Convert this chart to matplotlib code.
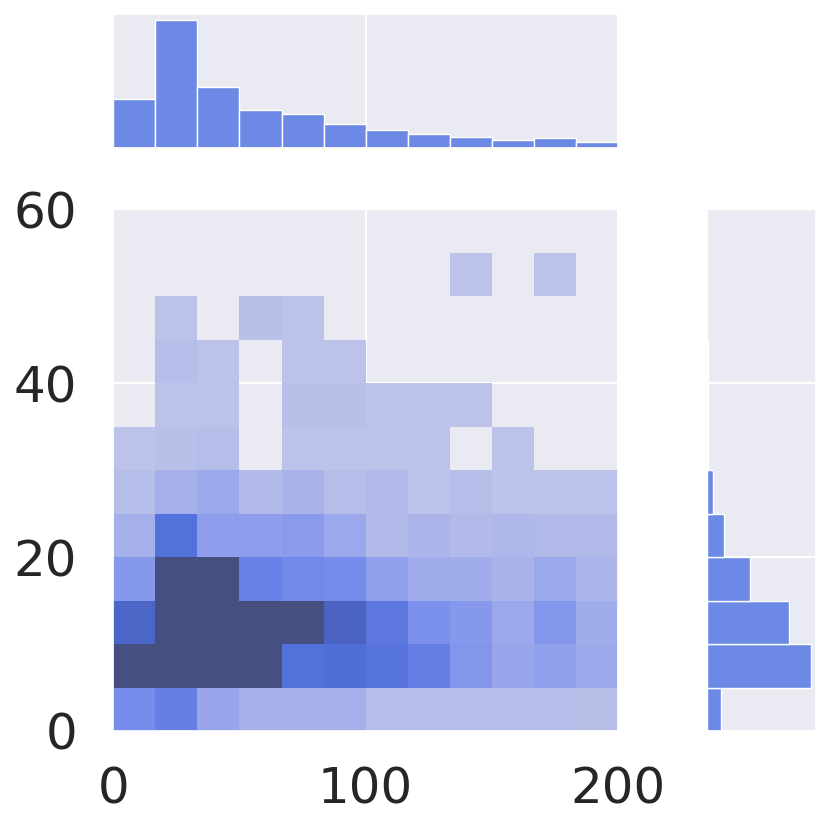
import numpy as np
import matplotlib
matplotlib.use("Agg")
import matplotlib.pyplot as plt
import seaborn as sns

# bins of the joint histogram
x_range = (0, 200)
x_bins = 12
y_range = (0, 55)
y_bins = 11

# counts per cell: rows = y bins from 0-5 upward, columns = x bins from left
counts = np.array([
    [22, 27, 12, 8, 8, 8, 3, 3, 3, 3, 3, 2],
    [152, 270, 90, 70, 33, 34, 32, 27, 18, 12, 14, 10],
    [38, 190, 91, 65, 75, 39, 30, 20, 17, 11, 18, 9],
    [17, 94, 80, 26, 23, 22, 14, 9, 9, 7, 11, 6],
    [8, 33, 15, 15, 16, 11, 4, 6, 4, 5, 4, 4],
    [3, 8, 11, 4, 7, 3, 4, 1, 3, 1, 1, 1],
    [1, 2, 3, 0, 1, 1, 1, 1, 0, 1, 0, 0],
    [0, 1, 1, 0, 2, 2, 1, 1, 1, 0, 0, 0],
    [0, 3, 1, 0, 1, 1, 0, 0, 0, 0, 0, 0],
    [0, 1, 0, 2, 1, 0, 0, 0, 0, 0, 0, 0],
    [0, 0, 0, 0, 0, 0, 0, 0, 1, 0, 1, 0],
])
color_max = 50   # counts above this share the darkest colour

x_ticks = [0, 100, 200]
y_ticks = [0, 20, 40, 60]

# long form: one row per cell, weighted by its count
x_edges = np.linspace(*x_range, x_bins + 1)
y_edges = np.linspace(*y_range, y_bins + 1)
xc = (x_edges[:-1] + x_edges[1:]) / 2
yc = (y_edges[:-1] + y_edges[1:]) / 2
xx, yy = np.meshgrid(xc, yc)
xx, yy, w = xx.ravel(), yy.ravel(), counts.ravel()

sns.set_theme(style="darkgrid")
plt.rcParams["grid.linewidth"] = 1.5

fig = plt.figure(figsize=(8.31, 8.30), dpi=100)
ax_joint = fig.add_axes([0.1363, 0.1193, 0.6074, 0.6285])
ax_top = fig.add_axes([0.1363, 0.8213, 0.6074, 0.1618], sharex=ax_joint)
ax_right = fig.add_axes([0.8504, 0.1193, 0.1315, 0.6285], sharey=ax_joint)

sns.histplot(x=xx, y=yy, weights=w, bins=(x_bins, y_bins),
             binrange=(x_range, y_range), color="royalblue",
             vmax=color_max, ax=ax_joint)
sns.histplot(x=xx, weights=w, bins=x_bins, binrange=x_range,
             color="royalblue", ax=ax_top)
sns.histplot(y=yy, weights=w, bins=y_bins, binrange=y_range,
             color="royalblue", ax=ax_right)

ax_joint.set_xlim(0, 200)
ax_joint.set_ylim(0, 60)
ax_joint.set_xticks(x_ticks)
ax_joint.set_yticks(y_ticks)
ax_joint.tick_params(axis="both", length=0, labelsize=36, colors="#262626")
ax_joint.tick_params(axis="x", pad=25)
ax_joint.tick_params(axis="y", pad=26)

for ax in (ax_top, ax_right):
    ax.set_xlabel("")
    ax.set_ylabel("")
    ax.tick_params(length=0, labelbottom=False, labelleft=False)
ax_top.yaxis.grid(False)
ax_right.xaxis.grid(False)

fig.savefig("out.png", dpi=100)
